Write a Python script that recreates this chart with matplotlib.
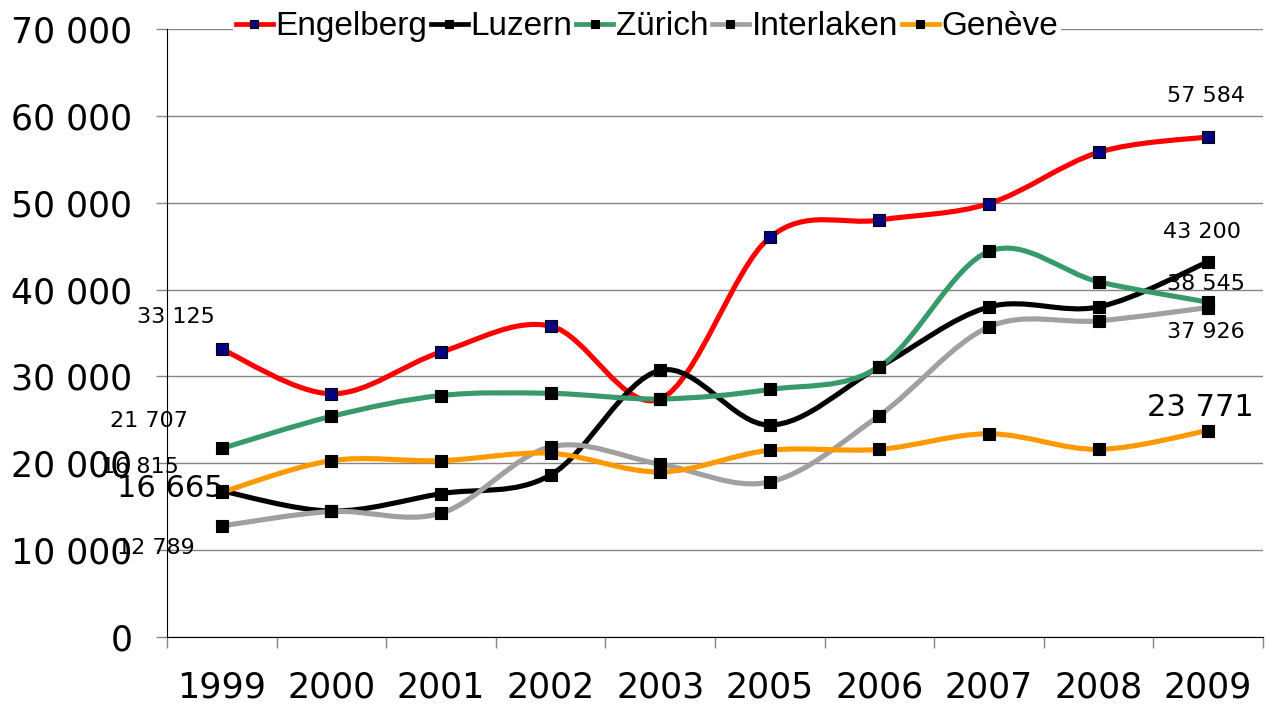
import matplotlib
matplotlib.use("Agg")
import matplotlib.pyplot as plt
from matplotlib.path import Path
from matplotlib.patches import PathPatch
from matplotlib.lines import Line2D
from matplotlib.ticker import FuncFormatter

# data
years = ["1999", "2000", "2001", "2002", "2003", "2005", "2006", "2007", "2008", "2009"]
engelberg = [33125, 28000, 32800, 35800, 27400, 46000, 48000, 49900, 55800, 57584]
luzern = [16815, 14500, 16500, 18650, 30700, 24400, 31100, 38000, 38000, 43200]
zurich = [21707, 25400, 27800, 28050, 27400, 28500, 31100, 44400, 40900, 38545]
interlaken = [12789, 14450, 14250, 21900, 19900, 17850, 25500, 35700, 36400, 37926]
geneve = [16665, 20300, 20300, 21150, 19000, 21500, 21600, 23400, 21600, 23771]

names = ["Engelberg", "Luzern", "Zürich", "Interlaken", "Genève"]
series = [engelberg, luzern, zurich, interlaken, geneve]
colors = ["#ff0000", "#000000", "#389a6a", "#a0a0a0", "#ff9900"]
mfaces = ["#000080", "#000000", "#000000", "#000000", "#000000"]


def smooth_path(xs, ys):
    # bezier segments like excel's smoothed line
    n = len(xs)
    verts = [(xs[0], ys[0])]
    codes = [Path.MOVETO]
    for i in range(n - 1):
        i0 = max(i - 1, 0)
        i3 = min(i + 2, n - 1)
        c1 = (xs[i] + (xs[i + 1] - xs[i0]) / 6, ys[i] + (ys[i + 1] - ys[i0]) / 6)
        c2 = (xs[i + 1] - (xs[i3] - xs[i]) / 6, ys[i + 1] - (ys[i3] - ys[i]) / 6)
        verts += [c1, c2, (xs[i + 1], ys[i + 1])]
        codes += [Path.CURVE4] * 3
    return Path(verts, codes)


fig = plt.figure(figsize=(12.66, 7.04), dpi=100)
ax = fig.add_axes([0.1319, 0.0952, 0.8657, 0.8636])

xs = list(range(len(years)))
for k, (vals, col, mf) in enumerate(zip(series, colors, mfaces)):
    ax.add_patch(PathPatch(smooth_path(xs, vals), facecolor="none", edgecolor=col,
                           lw=3.7, capstyle="round", joinstyle="round", zorder=3 + k))
    ax.plot(xs, vals, ls="none", marker="s", ms=8, mfc=mf, mec="black", mew=0.8,
            zorder=3 + k)

ax.set_xlim(-0.5, 9.5)
ax.set_ylim(0, 70000)
ax.set_yticks(range(0, 70001, 10000))
ax.yaxis.set_major_formatter(FuncFormatter(lambda v, p: f"{int(v):,}".replace(",", " ")))
ax.set_xticks(xs)
ax.set_xticklabels(years)
ax.set_xticks([x - 0.5 for x in range(len(years) + 1)], minor=True)

ax.tick_params(axis="x", which="major", length=0, pad=24, labelsize=25)
ax.tick_params(axis="x", which="minor", length=8, color="#868686", width=1, direction="out")
ax.tick_params(axis="y", length=8, color="#868686", width=1, direction="out", pad=17,
               labelsize=25)

ax.grid(axis="y", color="#868686", lw=1)
ax.set_axisbelow(True)
for s in ["top", "right"]:
    ax.spines[s].set_visible(False)
ax.spines["left"].set_color("black")
ax.spines["bottom"].set_color("black")
ax.spines["left"].set_zorder(2.5)

# data labels at first and last year (offsets in pixels -> points)
first_lbl = [(-46, 26, 16), (-82, 18, 16), (-73, 21, 16), (-66, -28, 16), (-51, -5, 22)]
last_lbl = [(-2, 35, 16), (-6, 24, 16), (-2, 12, 16), (-2, -30, 16), (-8, 15, 22)]
for vals, a, b in zip(series, first_lbl, last_lbl):
    for idx, (dx, dy, fs) in ((0, a), (len(xs) - 1, b)):
        ax.annotate(f"{vals[idx]:,}".replace(",", " "), (xs[idx], vals[idx]),
                    xytext=(dx * 0.72, dy * 0.72), textcoords="offset points",
                    ha="center", va="baseline", fontsize=fs, zorder=10,
                    annotation_clip=False)

handles = [Line2D([], [], color=c, lw=3.4, marker="s", ms=6, mfc=mf, mec="black", mew=0.8)
           for c, mf in zip(colors, mfaces)]
leg = fig.legend(handles, names, loc="center", bbox_to_anchor=(0.511, 0.962), ncol=5,
                 frameon=True, framealpha=1, facecolor="white", edgecolor="none",
                 prop={"family": "Liberation Sans", "size": 24}, handlelength=1.1,
                 handletextpad=0.08, columnspacing=0.12, borderpad=0.1, borderaxespad=0)

fig.savefig("out.png", dpi=100)
